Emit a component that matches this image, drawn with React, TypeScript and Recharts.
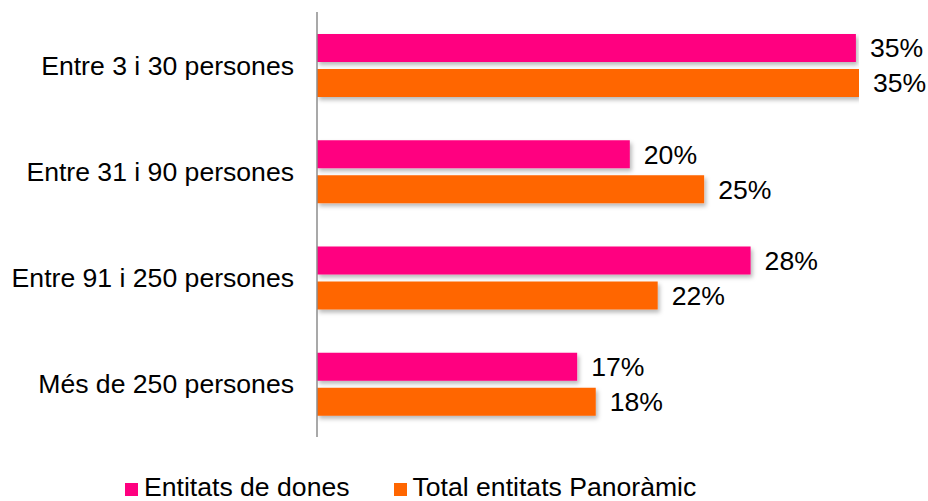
import { BarChart, Bar, XAxis, YAxis, Legend, LabelList } from 'recharts'

const categories = [
  'Entre 3 i 30 persones',
  'Entre 31 i 90 persones',
  'Entre 91 i 250 persones',
  'Més de 250 persones',
]
const dones = [34.8, 20.2, 28.0, 16.8]
const panoramic = [35.0, 25.0, 22.0, 18.0]

const PINK = '#FF0080'
const ORANGE = '#FF6600'
const FONT = '"Liberation Sans", Arial, sans-serif'
const FS = 26.6

const data = categories.map((name, i) => ({
  name,
  dones: dones[i],
  panoramic: panoramic[i],
}))

const pct = (v: any) => `${Math.round(Number(v))}%`

function ShadowBar(props: any) {
  const { x, y, width, height, fill } = props
  return <rect x={x} y={y} width={width} height={height} fill={fill} filter="url(#barShadow)" />
}

function LegendContent() {
  const items = [
    { label: 'Entitats de dones', color: PINK },
    { label: 'Total entitats Panoràmic', color: ORANGE },
  ]
  return (
    <div style={{ display: 'flex', alignItems: 'center', fontFamily: FONT, fontSize: FS, color: '#000', whiteSpace: 'nowrap' }}>
      {items.map((it, i) => (
        <div key={it.label} style={{ display: 'flex', alignItems: 'center', marginRight: i === 0 ? 44 : 0 }}>
          <span style={{ display: 'inline-block', width: 13, height: 13, background: it.color, marginRight: 6, marginTop: 3 }} />
          <span>{it.label}</span>
        </div>
      ))}
    </div>
  )
}

export default function App() {
  return (
    <div style={{ position: 'absolute', left: 0, top: 0, width: 928, height: 501, background: '#fff' }}>
      <svg width={0} height={0} style={{ position: 'absolute' }}>
        <defs>
          <filter id="barShadow" x="-5%" y="-20%" width="115%" height="160%">
            <feDropShadow dx={2} dy={3} stdDeviation={2} floodColor="#000" floodOpacity={0.28} />
          </filter>
        </defs>
      </svg>
      <BarChart
        width={928}
        height={501}
        data={data}
        layout="vertical"
        margin={{ top: 12, right: 69, bottom: 64, left: 0 }}
        barSize={28}
        barGap={7}
      >
        <XAxis type="number" domain={[0, 35]} hide allowDataOverflow />
        <YAxis
          type="category"
          dataKey="name"
          width={317}
          tickLine={false}
          tickSize={0}
          tickMargin={23}
          axisLine={{ stroke: '#8c8c8c', strokeWidth: 1.5 }}
          tick={{ fontSize: FS, fill: '#000', fontFamily: FONT }}
          interval={0}
        />
        <Legend
          layout="horizontal"
          verticalAlign="middle"
          align="center"
          wrapperStyle={{ top: 472, left: 125, width: 'auto' }}
          content={() => <LegendContent />}
        />
        <Bar dataKey="dones" name="Entitats de dones" fill={PINK} shape={ShadowBar} isAnimationActive={false}>
          <LabelList dataKey="dones" position="right" offset={14} formatter={pct} style={{ fontSize: FS, fill: '#000', fontFamily: FONT }} />
        </Bar>
        <Bar dataKey="panoramic" name="Total entitats Panoràmic" fill={ORANGE} shape={ShadowBar} isAnimationActive={false}>
          <LabelList dataKey="panoramic" position="right" offset={14} formatter={pct} style={{ fontSize: FS, fill: '#000', fontFamily: FONT }} />
        </Bar>
      </BarChart>
    </div>
  )
}
